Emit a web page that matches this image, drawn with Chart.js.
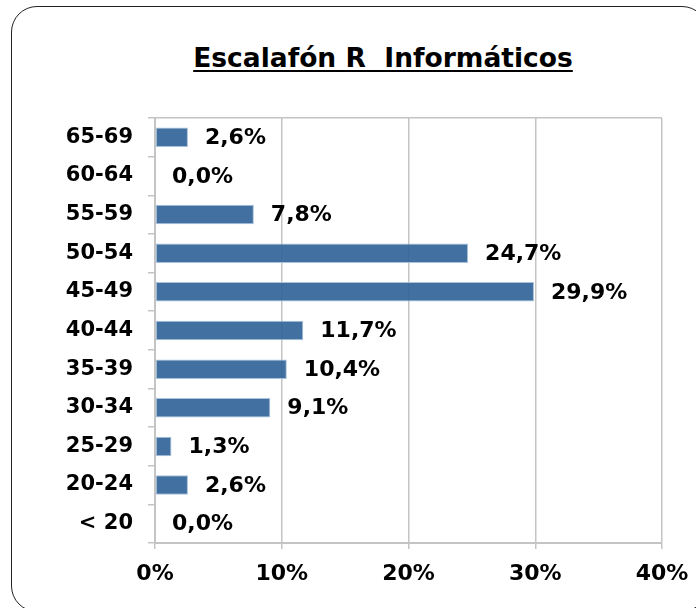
<!DOCTYPE html>
<html>
<head>
<meta charset="utf-8">
<script src="https://cdn.jsdelivr.net/npm/chart.js@4/dist/chart.umd.min.js"></script>
<style>
    html, body { margin: 0; padding: 0; background: #fff; overflow: hidden; }
    #wrap { position: relative; width: 696px; height: 608px; }
    #frame {
        position: absolute; left: 11px; top: 6px; width: 697px; height: 606px;
        border: 1.5px solid #222; border-radius: 26px; box-sizing: border-box;
    }
    #title {
        position: absolute; left: 183px; width: 400px; top: 43px;
        text-align: center; white-space: pre;
        font: bold 26.5px 'DejaVu Sans', sans-serif; line-height: 30px;
        text-decoration: underline; text-underline-offset: 3px; color: #000;
    }
    canvas { position: absolute; left: 0; top: 0; }
</style>
</head>
<body>
<div id="wrap">
    <div id="frame"></div>
    <div id="title">Escalafón R  Informáticos</div>
    <canvas id="chart" width="696" height="608"></canvas>
</div>
<script>
// Rangos de edad (de arriba a abajo) y porcentajes
const ageGroups = ['65-69', '60-64', '55-59', '50-54', '45-49', '40-44', '35-39', '30-34', '25-29', '20-24', '< 20'];
const percentages = [2.6, 0.0, 7.8, 24.7, 29.9, 11.7, 10.4, 9.1, 1.3, 2.6, 0.0];
const xTicks = [0, 10, 20, 30, 40];

const gridGrey = '#c4c4c4';

// etiquetas de valor al final de cada barra
const valueLabels = {
    id: 'valueLabels',
    afterDatasetsDraw(chart) {
        const ctx = chart.ctx;
        const meta = chart.getDatasetMeta(0);
        ctx.save();
        ctx.font = 'bold 22px "DejaVu Sans", sans-serif';
        ctx.fillStyle = '#000';
        ctx.textAlign = 'left';
        ctx.textBaseline = 'middle';
        meta.data.forEach((bar, i) => {
            const txt = percentages[i].toFixed(1).replace('.', ',') + '%';
            ctx.fillText(txt, bar.x + 17, bar.y + 1);
        });
        ctx.restore();
    }
};

new Chart(document.getElementById('chart'), {
    type: 'bar',
    data: {
        labels: ageGroups,
        datasets: [{
            data: percentages,
            backgroundColor: 'rgba(50, 100, 152, 0.92)',
            borderColor: '#a9c2dc',
            borderWidth: 1,
            borderSkipped: false,
            categoryPercentage: 1,
            barPercentage: 0.505
        }]
    },
    options: {
        indexAxis: 'y',
        responsive: false,
        animation: false,
        layout: { padding: { top: 118, right: 34, left: 0, bottom: 0 } },
        plugins: {
            legend: { display: false },
            tooltip: { enabled: false }
        },
        scales: {
            x: {
                min: 0,
                max: 40,
                afterBuildTicks: axis => { axis.ticks = xTicks.map(v => ({ value: v })); },
                afterFit: axis => {
                    axis.height = 65;
                    axis.paddingLeft = 0;
                    axis.paddingRight = 0;
                },
                grid: { color: gridGrey, tickColor: gridGrey, tickLength: 6, lineWidth: 1.5 },
                border: { color: gridGrey, width: 2 },
                ticks: {
                    color: '#000',
                    padding: 12,
                    maxRotation: 0,
                    font: { family: 'DejaVu Sans', weight: 'bold', size: 22 },
                    callback: v => v + '%'
                }
            },
            y: {
                afterFit: axis => { axis.width = 155; },
                grid: {
                    offset: true,
                    color: c => c.index === 0 ? gridGrey : 'rgba(0,0,0,0)',
                    tickColor: gridGrey,
                    tickLength: 7,
                    lineWidth: 1.5
                },
                border: { color: gridGrey, width: 2 },
                ticks: {
                    color: '#000',
                    padding: 15,
                    font: { family: 'DejaVu Sans', weight: 'bold', size: 21 }
                }
            }
        }
    },
    plugins: [valueLabels]
});
</script>
</body>
</html>
